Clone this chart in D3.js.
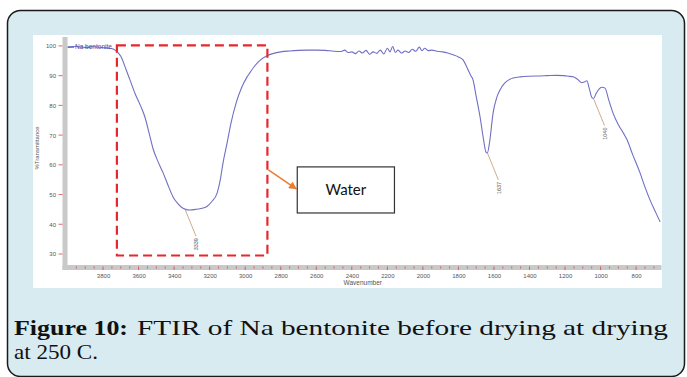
<!DOCTYPE html>
<html>
<head>
<meta charset="utf-8">
<script src="https://cdn.jsdelivr.net/npm/d3@7"></script>
<style>
  html, body { margin: 0; padding: 0; background: #ffffff; }
  svg { display: block; }
</style>
</head>
<body>
<div id="chart"></div>
<script>
// spectrum (wavenumber cm-1, %T)
var wavenumber = [4000, 3950, 3900, 3850, 3800, 3760, 3730, 3700, 3670, 3648, 3620, 3590, 3564, 3540, 3519,
  3490, 3462, 3430, 3406, 3380, 3360, 3339, 3310, 3280, 3250, 3215, 3190, 3158, 3140, 3125, 3102, 3080,
  3050, 3020, 2990, 2973, 2950, 2920, 2880, 2840, 2800, 2750, 2700, 2650, 2600, 2550, 2500, 2460, 2440,
  2420, 2400, 2380, 2360, 2340, 2320, 2300, 2280, 2260, 2240, 2220, 2200, 2185, 2170, 2155, 2140, 2120,
  2100, 2080, 2060, 2040, 2020, 2005, 1990, 1970, 1950, 1920, 1890, 1860, 1830, 1800, 1774, 1750, 1730,
  1718, 1700, 1678, 1660, 1645, 1637, 1625, 1605, 1585, 1566, 1540, 1510, 1492, 1450, 1400, 1340, 1300,
  1250, 1208, 1180, 1155, 1130, 1105, 1090, 1077, 1065, 1048, 1040, 1025, 1010, 992, 975, 955, 930, 900,
  870, 851, 820, 778, 750, 722, 690, 665];
var transmittance = [99.6, 99.8, 99.5, 99.7, 99.4, 99.2, 98.5, 96.5, 92, 88.5, 84, 80, 76, 70.5, 65.5,
  61, 57.3, 52.5, 49.2, 47, 45.8, 45.1, 44.8, 45, 45.3, 46, 47.5, 50.5, 55, 60.6, 67.3, 74,
  81, 86, 89.5, 91, 93, 95, 96.6, 97.5, 98, 98.3, 98.5, 98.6, 98.6, 98.5, 98.2, 98.1, 98.6,
  97.8, 98.0, 97.4, 98.3, 97.6, 98.5, 97.2, 98.0, 97.5, 98.6, 97.3, 99.2, 98.0, 99.8, 97.8, 98.6, 97.6,
  98.3, 97.8, 98.9, 98.2, 99.6, 98.4, 99.2, 98.4, 98.6, 98.2, 98.0, 97.6, 97.0, 96.3, 95.3, 92.5, 90,
  88.6, 83, 76, 69, 64.3, 64.0, 67.5, 77.4, 82.5, 85.2, 87.5, 88.8, 89.2, 89.6, 89.8, 89.9, 90,
  90.1, 90, 89.8, 89.6, 88.8, 87.6, 87.9, 88.3, 86, 82.5, 82.3, 84, 85.4, 86.1, 85.8, 82, 77.4, 73.5,
  70.5, 68.4, 63.5, 57.3, 52.5, 48.2, 44, 40.8];

var xTicks = [3800, 3600, 3400, 3200, 3000, 2800, 2600, 2400, 2200, 2000, 1800, 1600, 1400, 1200, 1000, 800];
var yTicks = [100, 90, 80, 70, 60, 50, 40, 30];

var peakWavenumber = [3339, 1637, 1040];
var peakValue = [45.1, 64.0, 82.3];
var peakLabel = ["3339", "1637", "1040"];

var seriesName = "Na bentonite";
var calloutText = "Water";
var captionBold = "Figure 10:";
var captionLine1 = "FTIR of Na bentonite before drying at drying";
var captionLine2 = "at 250 C.";

// highlighted band and callout box, in data units
var bandX = [3722, 2875], bandY = [100.2, 29.5];
var boxX = [2707, 2160], boxY = [59.3, 43.8];

var W = 687, H = 377;
var svg = d3.select("#chart").append("svg")
  .attr("width", W)
  .attr("height", H);

// card
svg.append("rect")
  .attr("x", 7.5).attr("y", 10.5)
  .attr("width", 677).attr("height", 366)
  .attr("rx", 13).attr("ry", 13)
  .style("fill", "#d7ebf1")
  .style("stroke", "#1a1a1a")
  .style("stroke-width", 1.5);

// white image area
svg.append("rect")
  .attr("x", 33).attr("y", 35)
  .attr("width", 629).attr("height", 253)
  .style("fill", "#ffffff");

var x = d3.scaleLinear().domain([4000, 660]).range([67.5, 661]);
var y = d3.scaleLinear().domain([26.3, 103]).range([265, 37]);

// grey axis bars
svg.append("rect")
  .attr("x", 62.5).attr("y", 37)
  .attr("width", 5).attr("height", 233)
  .style("fill", "#c9c9c9");
svg.append("rect")
  .attr("x", 62.5).attr("y", 265)
  .attr("width", 599).attr("height", 5)
  .style("fill", "#c9c9c9");

// x axis
var xMinor = d3.range(3950, 650, -50);
svg.append("g")
  .selectAll("line")
  .data(xMinor)
  .enter().append("line")
  .attr("x1", function(d) { return x(d); })
  .attr("x2", function(d) { return x(d); })
  .attr("y1", 266.5)
  .attr("y2", function(d) { return d % 200 === 0 ? 270 : 268.5; })
  .style("stroke", "#e04040")
  .style("stroke-width", 0.8);

var xAxis = d3.axisBottom(x).tickValues(xTicks).tickFormat(d3.format("d")).tickSize(0).tickPadding(4);
var gx = svg.append("g")
  .attr("transform", "translate(0,270)")
  .call(xAxis);
gx.select(".domain").remove();
gx.selectAll("text")
  .style("font-family", "Liberation Sans, Arial, sans-serif")
  .style("font-size", "6px")
  .style("fill", "#555");

svg.append("text")
  .attr("x", x(2400) + 11)
  .attr("y", 285)
  .style("text-anchor", "middle")
  .style("font-family", "Liberation Sans, Arial, sans-serif")
  .style("font-size", "6.5px")
  .style("fill", "#555")
  .text("Wavenumber");

// y axis
var yAxis = d3.axisLeft(y).tickValues(yTicks).tickFormat(d3.format("d")).tickSize(0).tickPadding(7);
var gy = svg.append("g")
  .attr("transform", "translate(63,0)")
  .call(yAxis);
gy.select(".domain").remove();
gy.selectAll("text")
  .style("font-family", "Liberation Sans, Arial, sans-serif")
  .style("font-size", "6px")
  .style("fill", "#555");
svg.append("g")
  .selectAll("line")
  .data(yTicks)
  .enter().append("line")
  .attr("x1", 58.5).attr("x2", 62.5)
  .attr("y1", function(d) { return y(d); })
  .attr("y2", function(d) { return y(d); })
  .style("stroke", "#e04040")
  .style("stroke-width", 0.8);

svg.append("text")
  .attr("transform", "translate(39,148) rotate(-90)")
  .style("text-anchor", "middle")
  .style("font-family", "Liberation Sans, Arial, sans-serif")
  .style("font-size", "6px")
  .style("fill", "#555")
  .text("%Transmittance");

// spectrum
var points = wavenumber.map(function(w, i) { return [w, transmittance[i]]; });
var line = d3.line()
  .x(function(d) { return x(d[0]); })
  .y(function(d) { return y(d[1]); })
  .curve(d3.curveMonotoneX);

svg.append("path")
  .datum(points)
  .attr("d", line)
  .style("fill", "none")
  .style("stroke", "#6f6fc4")
  .style("stroke-width", 1.1);

// series label
svg.append("line")
  .attr("x1", 68).attr("x2", 74)
  .attr("y1", y(99.6)).attr("y2", y(99.6))
  .style("stroke", "#4a4aa8")
  .style("stroke-width", 1);
svg.append("text")
  .attr("x", 75)
  .attr("y", y(99.6) + 2)
  .style("font-family", "Liberation Sans, Arial, sans-serif")
  .style("font-size", "6.5px")
  .style("fill", "#4a4aa8")
  .text(seriesName);

// peak labels
var pk = svg.append("g").selectAll("g")
  .data(peakWavenumber)
  .enter().append("g");
pk.append("line")
  .attr("x1", function(d) { return x(d); })
  .attr("y1", function(d, i) { return y(peakValue[i]); })
  .attr("x2", function(d) { return x(d) + 11; })
  .attr("y2", function(d, i) { return y(peakValue[i]) + 27; })
  .style("stroke", "#c9a27e")
  .style("stroke-width", 0.9);
pk.append("text")
  .attr("transform", function(d, i) {
    return "translate(" + (x(d) + 13.5) + "," + (y(peakValue[i]) + 29) + ") rotate(-90)";
  })
  .style("text-anchor", "end")
  .style("font-family", "Liberation Sans, Arial, sans-serif")
  .style("font-size", "5.5px")
  .style("fill", "#555")
  .text(function(d, i) { return peakLabel[i]; });

// red dashed band
svg.append("rect")
  .attr("x", x(bandX[0]))
  .attr("y", y(bandY[0]))
  .attr("width", x(bandX[1]) - x(bandX[0]))
  .attr("height", y(bandY[1]) - y(bandY[0]))
  .style("fill", "none")
  .style("stroke", "#e8262d")
  .style("stroke-width", 2.2)
  .style("stroke-dasharray", "9,5");

// callout
var defs = svg.append("defs");
defs.append("marker")
  .attr("id", "arrow")
  .attr("viewBox", "0 0 10 10")
  .attr("refX", 9).attr("refY", 5)
  .attr("markerWidth", 5).attr("markerHeight", 5)
  .attr("orient", "auto")
  .append("path")
  .attr("d", "M0,0L10,5L0,10Z")
  .style("fill", "#ed7d31");

svg.append("line")
  .attr("x1", x(bandX[1]) + 1)
  .attr("y1", y(boxY[0]) + 3)
  .attr("x2", x(boxX[0]) - 1)
  .attr("y2", y(boxY[0]) + 22)
  .attr("marker-end", "url(#arrow)")
  .style("stroke", "#ed7d31")
  .style("stroke-width", 1.6);

svg.append("rect")
  .attr("x", x(boxX[0]))
  .attr("y", y(boxY[0]))
  .attr("width", x(boxX[1]) - x(boxX[0]))
  .attr("height", y(boxY[1]) - y(boxY[0]))
  .style("fill", "#ffffff")
  .style("stroke", "#333")
  .style("stroke-width", 1.2);
svg.append("text")
  .attr("x", (x(boxX[0]) + x(boxX[1])) / 2)
  .attr("y", (y(boxY[0]) + y(boxY[1])) / 2 + 5)
  .style("text-anchor", "middle")
  .style("font-family", "Lato, 'Open Sans', sans-serif")
  .style("font-size", "15px")
  .style("fill", "#111")
  .text(calloutText);

// caption: serif, widened glyphs, first line fills the card width
var capFont = "'Liberation Serif', 'DejaVu Serif', serif";
svg.append("text")
  .attr("x", 14)
  .attr("y", 335)
  .attr("textLength", 114)
  .attr("lengthAdjust", "spacingAndGlyphs")
  .style("font-family", capFont)
  .style("font-size", "21px")
  .style("font-weight", "bold")
  .style("fill", "#111")
  .text(captionBold);
svg.append("text")
  .attr("x", 137)
  .attr("y", 335)
  .attr("textLength", 668 - 137)
  .attr("lengthAdjust", "spacingAndGlyphs")
  .style("font-family", capFont)
  .style("font-size", "21px")
  .style("fill", "#111")
  .text(captionLine1);
svg.append("g").attr("transform", "translate(14,359) scale(1.1,1)")
  .append("text")
  .style("font-family", capFont)
  .style("font-size", "21px")
  .style("fill", "#111")
  .text(captionLine2);
</script>
</body>
</html>
